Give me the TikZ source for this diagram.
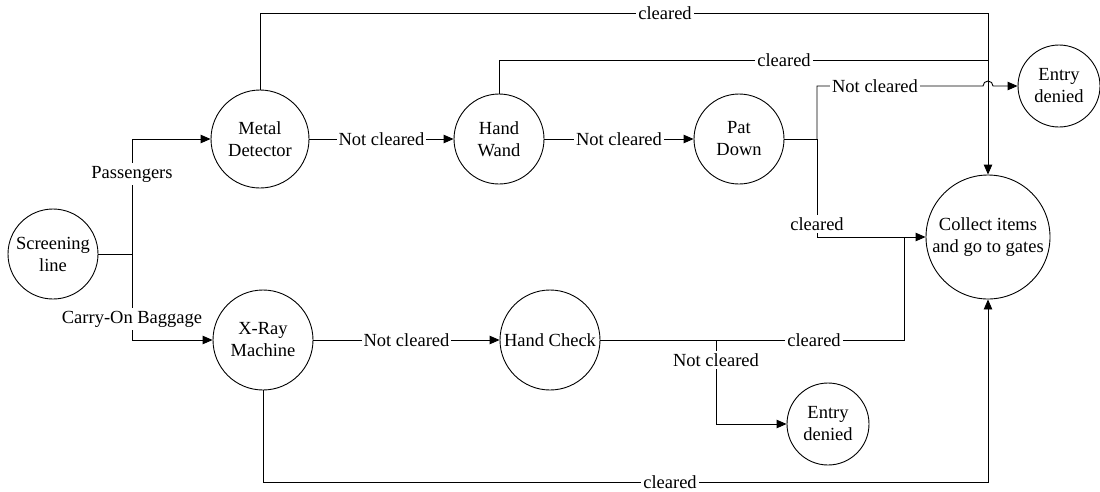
\documentclass[tikz,border=0pt]{standalone}
\usepackage{fontspec}
\newfontfamily\timesfont{Liberation Serif}
\usetikzlibrary{arrows.meta}
\begin{document}
\begin{tikzpicture}[x=1pt,y=-1pt,
  line width=0.9pt,
  state/.style={draw,circle,inner sep=0pt,align=center,font=\timesfont\fontsize{18.5}{22}\selectfont},
  lab/.style={fill=white,inner xsep=2pt,inner ysep=2.5pt,font=\timesfont\fontsize{18.5}{22}\selectfont},
  arr/.style={-{Triangle[length=10pt,width=8.5pt]}}]
\useasboundingbox (0,0) rectangle (1100,491);
% states
\node[state,minimum size=90pt]  (scr) at (53,254)  {Screening\\line};
\node[state,minimum size=98pt]  (md)  at (260,139) {Metal\\Detector};
\node[state,minimum size=90pt]  (hw)  at (499,139) {Hand\\Wand};
\node[state,minimum size=90pt]  (pd)  at (739,139) {Pat\\Down};
\node[state,minimum size=82pt]  (ed1) at (1059,86) {Entry\\denied};
\node[state,minimum size=124pt] (col) at (988,237) {Collect items\\and go to gates};
\node[state,minimum size=100pt] (xr)  at (263,340) {X-Ray\\Machine};
\node[state,minimum size=100pt] (hc)  at (550,340) {Hand Check};
\node[state,minimum size=82pt]  (ed2) at (828,424) {Entry\\denied};
% helper coordinates
\coordinate (jm) at (132,254);
\coordinate (jt) at (132,139);
\coordinate (jb) at (132,340);
\coordinate (t1) at (988,13);
\coordinate (t2) at (988,60);
\coordinate (pj) at (817,139);
\coordinate (pt) at (817,86);
\coordinate (pb) at (817,237);
\coordinate (jump) at (983,86);
\coordinate (hj) at (716,340);
\coordinate (hr) at (904,340);
\coordinate (hu) at (904,237);
\coordinate (hd) at (716,424);
\coordinate (b1) at (988,482);
% connectors
\draw (scr) -- (jm);
\draw[arr] (jm) -- (jt) -- (md.west);
\draw[arr] (jm) -- (jb) -- (xr.west);
\draw[arr] (md) -- node[lab]{Not cleared} (hw);
\draw[arr] (hw) -- node[lab]{Not cleared} (pd);
\draw[arr] (xr) -- node[lab]{Not cleared} (hc);
\draw[arr] (md.north) |- (t1) -- (col.north);
\draw (hw.north) |- (t2);
\draw (pd) -- (pj);
\draw[arr] (pj) -- (pt) -- (jump) arc[start angle=180,end angle=0,radius=5pt] -- (ed1.west);
\draw[arr] (pj) -- (pb) -- (col.west);
\draw (hc) -- (hr) -- (hu);
\draw[arr] (hj) -- (hd) -- (ed2.west);
\draw[arr] (xr.south) |- (b1) -- (col.south);
% labels on lines
\node[lab] (lpass) at (132,174) {Passengers};
\node[lab] (lcarry) at (132,319) {Carry-On Baggage};
\node[lab] (lc1) at (665,13) {cleared};
\node[lab] (lc2) at (784,60) {cleared};
\node[lab] (lnc) at (875,86) {Not cleared};
\node[lab] (lc3) at (817,224) {cleared};
\node[lab] (lc4) at (814,340) {cleared};
\node[lab] (lnc2) at (716,360) {Not cleared};
\node[lab,inner ysep=0.5pt] (lc5) at (670,482) {cleared};
\end{tikzpicture}
\end{document}
